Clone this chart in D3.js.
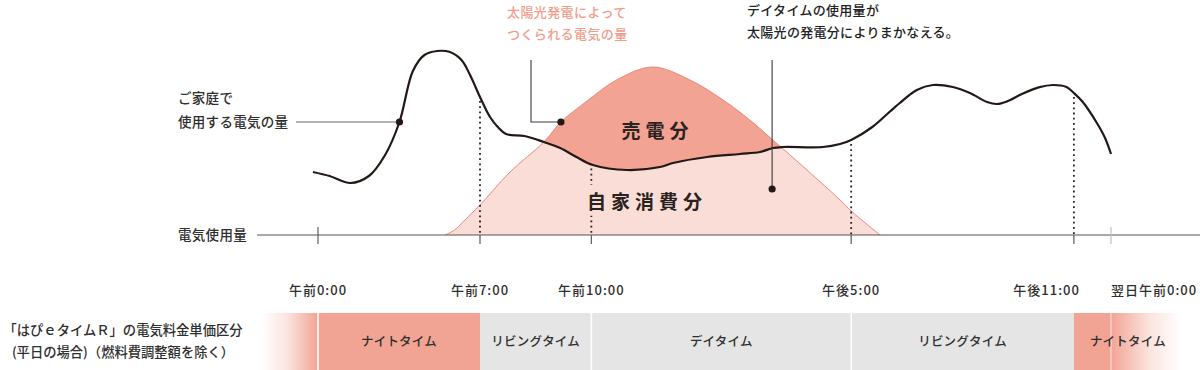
<!DOCTYPE html>
<html><head><meta charset="utf-8">
<script src="https://cdn.jsdelivr.net/npm/d3@7"></script>
<style>
html,body{margin:0;padding:0;background:#fff;}
svg{display:block;font-family:"Noto Sans CJK JP","Noto Sans",sans-serif;}
</style></head>
<body><svg id="chart" width="1200" height="370"></svg>
<script>
// ---- data ----
const usageHours = [-0.22,0.5,1.4,2.2,2.9,3.52,4.1,4.6,5.15,5.7,6.2,6.57,7,7.27,7.48,7.7,8.2,8.72,9.16,9.6,10.04,10.96,11.85,12.2,13.12,14,14.54,14.89,15.16,16.24,16.7,17,17.57,18.03,18.31,18.77,19.2,19.74,20.2,20.66,20.93,21.2,21.6,22.05,22.44,22.8,23,23.24,23.62,23.84,24];
const usageValues = [31.5,29.5,26,29.5,40,56.5,82,90,92,91.5,87.5,80,69,59,54,50.5,49.5,46.5,43.5,39,35,32.5,34,36,39,40.5,41.5,43.5,44,44,45.5,47.5,54,61.5,66,72.5,75,74,71,66.5,65.5,66.8,70.5,73.8,75,74,71,66.5,56,48.5,40.5];
const solarHours = [5.49,5.9,6.35,7,7.81,8.72,9.18,9.85,10.68,11.65,12.66,13.55,14.27,14.89,15.81,16.7,17,17.78];
const solarValues = [0,2.5,7.5,15,31.5,46.5,56.5,66.5,77.5,84,77.5,67.5,57.5,47.5,32.5,17.5,12,0];
const tickHours = [0,7,10,17,23,24];
const tickLabels = ["午前0:00","午前7:00","午前10:00","午後5:00","午後11:00","翌日午前0:00"];
const periodNames = ["ナイトタイム","リビングタイム","デイタイム","リビングタイム","ナイトタイム"];
const periodStart = [0,7,10,17,23];
const periodEnd = [7,10,17,23,24];
const periodKind = ["night","living","day","living","night"];
const soldLabel = "売電分";
const selfLabel = "自家消費分";
const axisLabel = "電気使用量";
const usageNote = ["ご家庭で","使用する電気の量"];
const solarNote = ["太陽光発電によって","つくられる電気の量"];
const dayNote = ["デイタイムの使用量が","太陽光の発電分によりまかなえる。"];
const barNote = ["「はぴｅタイムＲ」の電気料金単価区分","(平日の場合)（燃料費調整額を除く）"];
const usageDot = [3.52,56.5];
const solarDot = [9.18,56.5];
const selfDot = [14.87,23];

// ---- styles ----
const C = {
  light:"#f9ddd6", sold:"#f2a393", edge:"#ec8a77", night:"#f2a494", gray:"#e5e5e5",
  curve:"#231815", leader:"#3a3a3a", axis:"#555", text:"#2e2e2e", salmonText:"#f09d8a"
};
const FW = 500;

const svg = d3.select("#chart");
const x = d3.scaleLinear().domain([0,7,24]).range([318,480,1111]);
const y = d3.scaleLinear().domain([0,100]).range([235,35]);
const base = y(0);

const usage = usageHours.map((h,i)=>[h,usageValues[i]]);
const solar = solarHours.map((h,i)=>[h,solarValues[i]]);
const defs = svg.append("defs");
const cr = d3.curveCatmullRom.alpha(0.5);

const aboveArea = d3.area().x(d=>x(d[0])).y0(0).y1(d=>y(d[1])).curve(cr);
defs.append("clipPath").attr("id","above").append("path").attr("d",aboveArea(usage));

const solarArea = d3.area().x(d=>x(d[0])).y0(base).y1(d=>y(d[1])).curve(cr);
const solarLine = d3.line().x(d=>x(d[0])).y(d=>y(d[1])).curve(cr);
const usageLine = d3.line().x(d=>x(d[0])).y(d=>y(d[1])).curve(cr);

svg.append("path").attr("d",solarArea(solar)).attr("fill",C.light);
svg.append("path").attr("d",solarArea(solar)).attr("fill",C.sold).attr("clip-path","url(#above)");
svg.append("path").attr("d",solarLine(solar)).attr("fill","none").attr("stroke",C.edge).attr("stroke-width",1);

// axis
svg.append("line").attr("x1",257).attr("x2",1200).attr("y1",base).attr("y2",base)
  .attr("stroke",C.axis).attr("stroke-width",1.2);
svg.append("text").attr("x",178).attr("y",base).attr("dy","0.35em").attr("font-weight",FW)
  .attr("font-size",13.5).attr("fill",C.text).attr("letter-spacing",0.3).text(axisLabel);

const usagePath = svg.append("path").attr("d",usageLine(usage)).attr("fill","none").attr("stroke","none");
const pNode = usagePath.node(); const pLen = pNode.getTotalLength();
function curveYAt(px){
  let lo=0,hi=pLen;
  for(let k=0;k<40;k++){const m=(lo+hi)/2; if(pNode.getPointAtLength(m).x<px) lo=m; else hi=m;}
  return pNode.getPointAtLength(lo).y;
}

tickHours.forEach((h,i)=>{
  const px = x(h);
  if(h===0 || h===24){
    svg.append("line").attr("x1",px).attr("x2",px).attr("y1",base-8).attr("y2",base+9)
      .attr("stroke",h===0?C.axis:"#bbb").attr("stroke-width",1.1);
  } else {
    svg.append("line").attr("x1",px).attr("x2",px).attr("y1",curveYAt(px)+4).attr("y2",base)
      .attr("stroke","#222").attr("stroke-width",1.8).attr("stroke-dasharray","1.8 3.4");
    svg.append("line").attr("x1",px).attr("x2",px).attr("y1",base).attr("y2",base+9)
      .attr("stroke","#666").attr("stroke-width",1.3);
  }
});

const selfX = x(11.5), selfY = 202;
const selfT = svg.append("text").attr("x",selfX).attr("y",selfY).attr("dy","0.35em").attr("text-anchor","middle")
  .attr("font-size",19).attr("font-weight",700).attr("letter-spacing",5).attr("fill","#2a2220").text(selfLabel);
const bb = selfT.node().getBBox();
svg.insert("rect", () => selfT.node()).attr("x",bb.x-4).attr("y",bb.y-2).attr("width",bb.width+8).attr("height",bb.height+4).attr("fill",C.light);
svg.append("text").attr("x",x(11.65)+5).attr("y",131).attr("dy","0.35em").attr("text-anchor","middle")
  .attr("font-size",19).attr("font-weight",700).attr("letter-spacing",5).attr("fill","#2a2220").text(soldLabel);

svg.append("path").attr("d",usageLine(usage)).attr("fill","none").attr("stroke",C.curve).attr("stroke-width",2.2);

function dot(p){svg.append("circle").attr("cx",x(p[0])).attr("cy",y(p[1])).attr("r",3.6).attr("fill",C.curve);}
svg.append("line").attr("x1",296).attr("x2",x(usageDot[0])).attr("y1",y(usageDot[1])).attr("y2",y(usageDot[1]))
  .attr("stroke","#666").attr("stroke-width",1.1);
dot(usageDot);
usageNote.forEach((t,i)=>svg.append("text").attr("x",178).attr("y",98+i*24).attr("dy","0.35em").attr("font-weight",FW)
  .attr("font-size",13.5).attr("fill",C.text).attr("letter-spacing",0.3).text(t));
svg.append("path").attr("d",`M531,60 V${y(solarDot[1])} H${x(solarDot[0])}`).attr("fill","none")
  .attr("stroke",C.leader).attr("stroke-width",1.1);
dot(solarDot);
solarNote.forEach((t,i)=>svg.append("text").attr("x",507).attr("y",12+i*22).attr("dy","0.35em").attr("font-weight",FW)
  .attr("font-size",13).attr("fill",C.salmonText).attr("letter-spacing",0.4).text(t));
svg.append("line").attr("x1",x(selfDot[0])).attr("x2",x(selfDot[0])).attr("y1",60).attr("y2",y(selfDot[1]))
  .attr("stroke",C.leader).attr("stroke-width",1.1);
dot(selfDot);
dayNote.forEach((t,i)=>svg.append("text").attr("x",747).attr("y",10+i*22).attr("dy","0.35em").attr("font-weight",FW)
  .attr("font-size",13).attr("fill","#222").attr("letter-spacing",0.3).text(t));

tickHours.forEach((h,i)=>{
  let anchor="middle", px=x(h);
  if(i===tickHours.length-1){anchor="start";}
  else if(i===tickHours.length-2){anchor="end"; px = x(h)+6;}
  svg.append("text").attr("x",px).attr("y",290).attr("dy","0.35em").attr("text-anchor",anchor).attr("font-weight",FW)
    .attr("font-size",13).attr("letter-spacing",1).attr("fill",C.text).text(tickLabels[i]);
});

const barY = 313, barH = 57;
const gL = defs.append("linearGradient").attr("id","fadeL");
gL.append("stop").attr("offset",0).attr("stop-color",C.night).attr("stop-opacity",0);
gL.append("stop").attr("offset",0.45).attr("stop-color",C.night).attr("stop-opacity",0.3);
gL.append("stop").attr("offset",1).attr("stop-color",C.night).attr("stop-opacity",1);
const gR = defs.append("linearGradient").attr("id","fadeR");
gR.append("stop").attr("offset",0).attr("stop-color",C.night).attr("stop-opacity",1);
gR.append("stop").attr("offset",0.55).attr("stop-color",C.night).attr("stop-opacity",0.3);
gR.append("stop").attr("offset",1).attr("stop-color",C.night).attr("stop-opacity",0);
svg.append("rect").attr("x",x(0)-56).attr("y",barY).attr("width",56).attr("height",barH).attr("fill","url(#fadeL)");
svg.append("rect").attr("x",x(24)).attr("y",barY).attr("width",70).attr("height",barH).attr("fill","url(#fadeR)");
periodNames.forEach((n,i)=>{
  svg.append("rect").attr("x",x(periodStart[i])).attr("y",barY).attr("width",x(periodEnd[i])-x(periodStart[i]))
    .attr("height",barH).attr("fill",periodKind[i]==="night"?C.night:C.gray);
});
[0,10,17,24].forEach(h=>svg.append("line").attr("x1",x(h)).attr("x2",x(h)).attr("y1",barY).attr("y2",barY+barH)
  .attr("stroke","#fff").attr("stroke-width",h===24?1:1.6).attr("stroke-opacity",h===24?0.7:1));
periodNames.forEach((n,i)=>{
  let cx = (x(periodStart[i])+x(periodEnd[i]))/2;
  if(i===periodNames.length-1) cx = x(periodStart[i])+54;
  svg.append("text").attr("x",cx).attr("y",barY+29).attr("dy","0.35em").attr("text-anchor","middle").attr("font-weight",FW)
    .attr("font-size",12.5).attr("fill",C.text).attr("letter-spacing",0.2).text(n);
});
barNote.forEach((t,i)=>svg.append("text").attr("x",123).attr("y",330+i*22).attr("dy","0.35em").attr("font-weight",FW)
  .attr("text-anchor","middle").attr("font-size",13.3).attr("fill",C.text).text(t));
</script></body></html>
